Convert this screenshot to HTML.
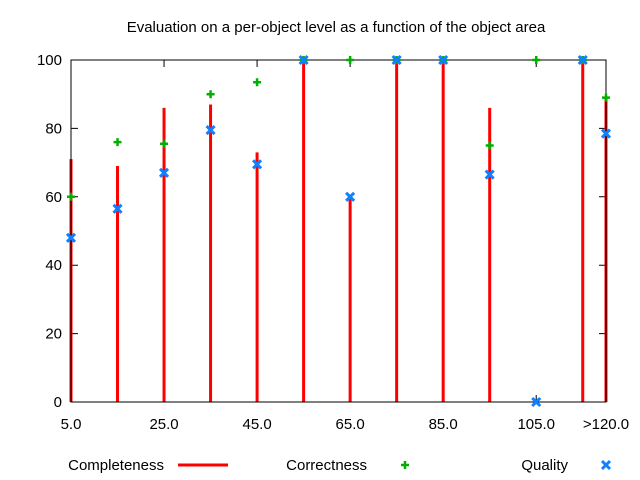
<!DOCTYPE html>
<html><head><meta charset="utf-8"><style>
body{margin:0;background:#fff;}
svg{display:block;font-family:"Liberation Sans","DejaVu Sans",sans-serif;}
</style></head><body>
<svg id="c" width="640" height="480" viewBox="0 0 640 480">
<text x="336" y="32" font-size="15" text-anchor="middle" fill="#000">Evaluation on a per-object level as a function of the object area</text>
<g id="plot"></g>
<g>
<text x="164" y="470" font-size="15" text-anchor="end">Completeness</text>
<line x1="178" y1="465" x2="228" y2="465" stroke="#ff0000" stroke-width="3"/>
<text x="367" y="470" font-size="15" text-anchor="end">Correctness</text>
<path d="M401 465h8M405 461v8" stroke="#00b000" stroke-width="2.5"/>
<text x="568" y="470" font-size="15" text-anchor="end">Quality</text>
<path d="M602 461l8 8M610 461l-8 8" stroke="#1080ff" stroke-width="3"/>
</g>
</svg>
<script>
const categories=[5,15,25,35,45,55,65,75,85,95,105,115,120];
const completeness=[71,69,86,87,73,100,60,100,100,86,0,100,89];
const correctness=[60,76,75.5,90,93.5,100,100,100,100,75,100,100,89];
const quality=[48,56.5,67,79.5,69.5,100,60,100,100,66.5,0,100,78.5];
const yTicks=[0,20,40,60,80,100];
const xTickValues=[5,25,45,65,85,105,120];
const xTickLabels=["5.0","25.0","45.0","65.0","85.0","105.0",">120.0"];

const L=71,R=606,T=60,B=402;
const X=v=>L+(v-5)/(120-5)*(R-L);
const Y=v=>B-v/100*(B-T);
const NS="http://www.w3.org/2000/svg";
const g=document.getElementById('plot');
function mk(tag,attrs){const e=document.createElementNS(NS,tag);for(const k in attrs)e.setAttribute(k,attrs[k]);g.appendChild(e);return e;}

yTicks.forEach(v=>{
  const y=Y(v);
  const t=mk('path',{d:`M${L} ${y}h7M${R} ${y}h-7`,stroke:'#000','stroke-width':1});
  
  
  const l=mk('text',{x:L-9,y:y+5,'font-size':15,'text-anchor':'end'});
  l.textContent=v;
  
  
});
xTickValues.forEach((v,i)=>{
  const x=X(v);
  const t=mk('path',{d:`M${x} ${B}v-7M${x} ${T}v7`,stroke:'#000','stroke-width':1});
  
  
  const l=mk('text',{x:x,y:B+27,'font-size':15,'text-anchor':'middle'});
  l.textContent=xTickLabels[i];
  
  
});
categories.forEach((c,i)=>{
  const x=X(c);
  const b=mk('line',{x1:x,x2:x,y1:B,y2:Y(completeness[i]),stroke:'#ff0000','stroke-width':3});
  
  
});
const frame=mk('rect',{x:L,y:T,width:R-L,height:B-T,fill:'none',stroke:'#000','stroke-width':1});


categories.forEach((c,i)=>{
  const x=X(c),y=Y(correctness[i]);
  const p=mk('path',{d:`M${x-4} ${y}h8M${x} ${y-4}v8`,stroke:'#00b000','stroke-width':2.5});
  
  
});
categories.forEach((c,i)=>{
  const x=X(c),y=Y(quality[i]);
  const p=mk('path',{d:`M${x-4} ${y-4}l8 8M${x+4} ${y-4}l-8 8`,stroke:'#1080ff','stroke-width':3});
  
  
});
</script>
</body></html>
